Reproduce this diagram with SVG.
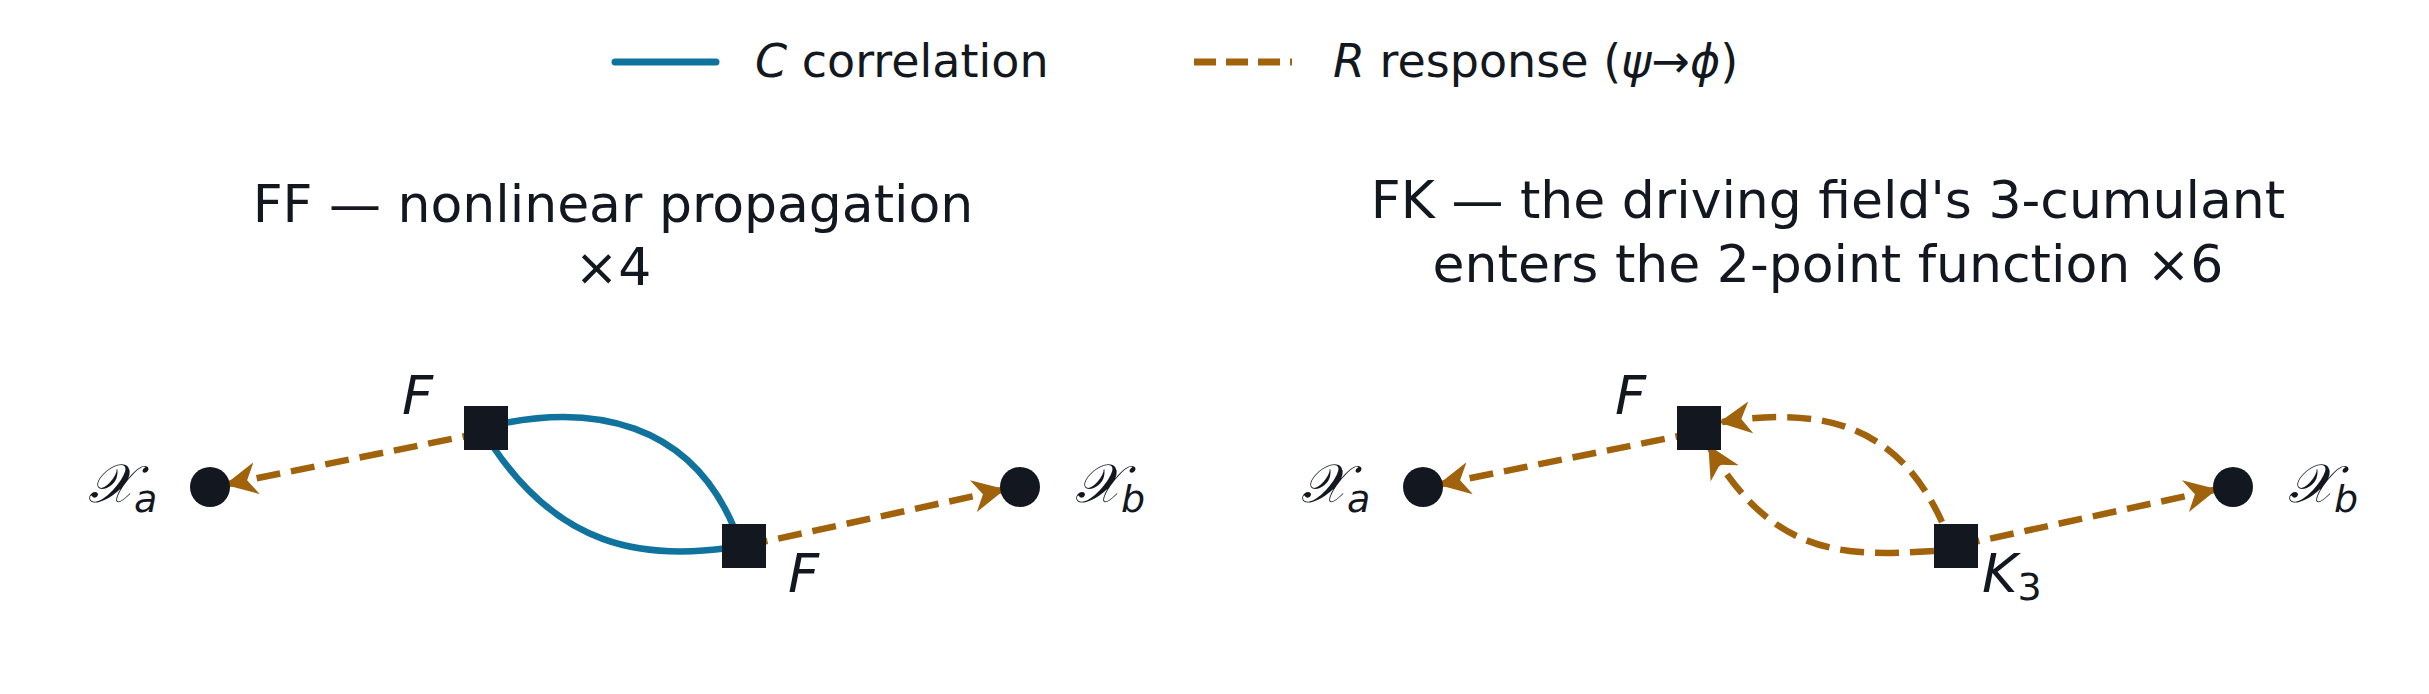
<svg xmlns="http://www.w3.org/2000/svg" width="2429" height="694" viewBox="0 0 2429 694">
<defs>
<style>
text{font-family:"DejaVu Sans",sans-serif;fill:#131820}
.t{font-size:52px;text-anchor:middle}
.lg{font-size:46px}
.m{font-family:"DejaVu Sans",sans-serif;font-style:italic;font-size:54px}
.c{fill:none;stroke:#10739e;stroke-width:6.5}
.r{fill:none;stroke:#a0620a;stroke-width:6.5;stroke-dasharray:24 11}
.n{fill:#131820}
</style>
<marker id="ah" viewBox="0 0 10 10" refX="9" refY="5" markerWidth="5" markerHeight="5" orient="auto" markerUnits="strokeWidth">
<path d="M0,0 L10,5 L0,10 L3,5 z" fill="#a0620a"/>
</marker>
</defs>
<g id="legend">
<line x1="615" y1="62" x2="716" y2="62" stroke="#10739e" stroke-width="7" stroke-linecap="round"/>
<text class="lg" x="755" y="77"><tspan font-style="italic">C</tspan>  correlation</text>
<line x1="1194" y1="62" x2="1292" y2="62" stroke="#a0620a" stroke-width="7" stroke-dasharray="22 10"/>
<text class="lg" x="1333" y="77"><tspan font-style="italic">R</tspan>  response  (<tspan font-style="italic">ψ</tspan>→<tspan font-style="italic">ϕ</tspan>)</text>
</g>
<g id="titles">
<text class="t" x="613" y="222">FF  —  nonlinear propagation</text>
<text class="t" x="613" y="285">×4</text>
<text class="t" x="1828" y="218">FK  —  the driving field's 3-cumulant</text>
<text class="t" x="1828" y="282">enters the 2-point function   ×6</text>
</g>
<g id="connectors">
<path class="c" d="M500,424 C590,405 690,420 735,530"/>
<path class="c" d="M494,448 C560,545 640,560 728,548"/>
<path class="r" d="M486,432 L228,484" marker-end="url(#ah)"/>
<path class="r" d="M744,546 L1002,490" marker-end="url(#ah)"/>
<path class="r" d="M1699,432 L1441,484" marker-end="url(#ah)"/>
<path class="r" d="M1956,546 L2214,490" marker-end="url(#ah)"/>
<path class="r" d="M1942,522 C1900,430 1830,405 1722,422" marker-end="url(#ah)"/>
<path class="r" d="M1934,551 C1850,556 1775,560 1710,448" marker-end="url(#ah)"/>
</g>
<g id="ff-xa"><circle class="n" cx="210" cy="487" r="20"/><text class="m" x="88" y="502">𝒳<tspan font-size="38" dy="10">a</tspan></text></g>
<g id="ff-f1"><rect class="n" x="464" y="406" width="44" height="44"/><text class="m" x="402" y="414">F</text></g>
<g id="ff-f2"><rect class="n" x="722" y="524" width="44" height="44"/><text class="m" x="788" y="592">F</text></g>
<g id="ff-xb"><circle class="n" cx="1020" cy="487" r="20"/><text class="m" x="1075" y="502">𝒳<tspan font-size="38" dy="10">b</tspan></text></g>
<g id="fk-xa"><circle class="n" cx="1423" cy="487" r="20"/><text class="m" x="1301" y="502">𝒳<tspan font-size="38" dy="10">a</tspan></text></g>
<g id="fk-f"><rect class="n" x="1677" y="406" width="44" height="44"/><text class="m" x="1615" y="414">F</text></g>
<g id="fk-k3"><rect class="n" x="1934" y="524" width="44" height="44"/><text class="m" x="1982" y="592">K<tspan font-size="38" dy="8" font-style="normal">3</tspan></text></g>
<g id="fk-xb"><circle class="n" cx="2233" cy="487" r="20"/><text class="m" x="2288" y="502">𝒳<tspan font-size="38" dy="10">b</tspan></text></g>
</svg>
